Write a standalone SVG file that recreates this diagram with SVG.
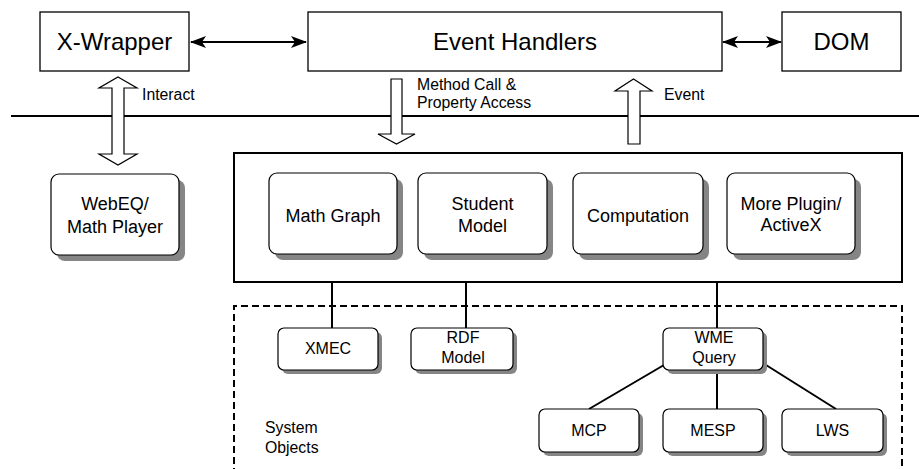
<svg xmlns="http://www.w3.org/2000/svg" width="919" height="469" viewBox="0 0 919 469">
<defs>
<style>
text{font-family:"Liberation Sans",Arial,Helvetica,sans-serif;fill:#000;text-anchor:middle}
.box{fill:#fff;stroke:#000;stroke-width:1.3}
.big{font-size:24px}
.mid{font-size:18px}
.sm{font-size:16px}
.lbl{font-size:15.8px;text-anchor:start}
.shadow{fill:#858585}
.node{fill:#fff;stroke:#000;stroke-width:1.2}
.conn{stroke:#000;stroke-width:2;fill:none}
.hollow{fill:#fff;stroke:#000;stroke-width:1.2}
</style>
<marker id="ah" viewBox="0 0 16 12" refX="15" refY="6" markerWidth="16" markerHeight="12" markerUnits="userSpaceOnUse" orient="auto-start-reverse">
<path d="M0,0 L16,6 L0,12 L4,6 Z" fill="#000"/>
</marker>
</defs>

<g id="connectors">
<line class="conn" x1="11" y1="116" x2="919" y2="116"/>
<line class="conn" x1="191" y1="42" x2="306" y2="42" marker-start="url(#ah)" marker-end="url(#ah)"/>
<line class="conn" x1="723" y1="42" x2="781" y2="42" marker-start="url(#ah)" marker-end="url(#ah)"/>
<polygon class="hollow" points="118,77 137,88 124,88 124,154 137,154 118,165 99,154 112,154 112,88 99,88"/>
<polygon class="hollow" points="391,79 402,79 402,134 415,134 396.5,144 378,134 391,134"/>
<polygon class="hollow" points="633.5,79 652,91 640,91 640,144 628,144 628,91 615,91"/>
<line class="conn" x1="332" y1="282" x2="332" y2="328"/>
<line class="conn" x1="466" y1="282" x2="466" y2="328"/>
<line class="conn" x1="717" y1="282" x2="717" y2="328"/>
<line class="conn" x1="664" y1="365" x2="589" y2="409"/>
<line class="conn" x1="717" y1="370" x2="717" y2="409"/>
<line class="conn" x1="766" y1="365" x2="836" y2="409"/>
<text class="lbl" x="142" y="100">Interact</text>
<text class="lbl" x="417" y="90">Method Call &amp;</text>
<text class="lbl" x="417" y="108">Property Access</text>
<text class="lbl" x="664" y="100">Event</text>
</g>

<g id="x-wrapper">
<rect class="box" x="40" y="12" width="149" height="59"/>
<text class="big" x="114.5" y="50">X-Wrapper</text>
</g>
<g id="event-handlers">
<rect class="box" x="308" y="12" width="414" height="59"/>
<text class="big" x="515" y="50">Event Handlers</text>
</g>
<g id="dom">
<rect class="box" x="782" y="12" width="119" height="59"/>
<text class="big" x="841.5" y="50">DOM</text>
</g>

<g id="webeq">
<rect class="shadow" x="57" y="180" width="128" height="81" rx="8"/>
<rect class="node" x="51" y="174" width="128" height="81" rx="8"/>
<text class="mid" x="115" y="210">WebEQ/</text>
<text class="mid" x="115" y="233">Math Player</text>
</g>

<g id="plugin-container">
<rect x="234" y="153" width="668" height="129" fill="none" stroke="#000" stroke-width="2"/>
</g>

<g id="math-graph">
<rect class="shadow" x="275" y="179" width="128" height="81" rx="8"/>
<rect class="node" x="269" y="173" width="128" height="81" rx="8"/>
<text class="mid" x="333" y="222">Math Graph</text>
</g>
<g id="student-model">
<rect class="shadow" x="424" y="179" width="129" height="81" rx="8"/>
<rect class="node" x="418" y="173" width="129" height="81" rx="8"/>
<text class="mid" x="482.5" y="210">Student</text>
<text class="mid" x="482.5" y="232">Model</text>
</g>
<g id="computation">
<rect class="shadow" x="579" y="179" width="130" height="81" rx="8"/>
<rect class="node" x="573" y="173" width="130" height="81" rx="8"/>
<text class="mid" x="638" y="222">Computation</text>
</g>
<g id="more-plugin">
<rect class="shadow" x="733" y="179" width="128" height="81" rx="8"/>
<rect class="node" x="727" y="173" width="128" height="81" rx="8"/>
<text class="mid" x="791" y="210">More Plugin/</text>
<text class="mid" x="791" y="231">ActiveX</text>
</g>

<g id="system-objects">
<path d="M234,475 L234,306 L902,306 L902,475" fill="none" stroke="#000" stroke-width="2" stroke-dasharray="7,4"/>
<text class="lbl" x="265" y="433">System</text>
<text class="lbl" x="265" y="453">Objects</text>
</g>

<g id="xmec">
<rect class="shadow" x="282" y="332" width="100" height="42" rx="6"/>
<rect class="node" x="278" y="328" width="100" height="42" rx="6"/>
<text class="sm" x="328" y="354">XMEC</text>
</g>
<g id="rdf-model">
<rect class="shadow" x="415" y="332" width="102" height="42" rx="6"/>
<rect class="node" x="411" y="328" width="102" height="42" rx="6"/>
<text class="sm" x="463" y="343">RDF</text>
<text class="sm" x="463" y="363">Model</text>
</g>
<g id="wme-query">
<rect class="shadow" x="667" y="332" width="100" height="42" rx="6"/>
<rect class="node" x="663" y="328" width="100" height="42" rx="6"/>
<text class="sm" x="714" y="343">WME</text>
<text class="sm" x="714" y="363">Query</text>
</g>
<g id="mcp">
<rect class="shadow" x="543" y="413" width="100" height="43" rx="6"/>
<rect class="node" x="539" y="409" width="100" height="43" rx="6"/>
<text class="sm" x="589" y="436">MCP</text>
</g>
<g id="mesp">
<rect class="shadow" x="667" y="413" width="100" height="43" rx="6"/>
<rect class="node" x="663" y="409" width="100" height="43" rx="6"/>
<text class="sm" x="713" y="436">MESP</text>
</g>
<g id="lws">
<rect class="shadow" x="786" y="413" width="101" height="43" rx="6"/>
<rect class="node" x="782" y="409" width="101" height="43" rx="6"/>
<text class="sm" x="832.5" y="436">LWS</text>
</g>
</svg>
